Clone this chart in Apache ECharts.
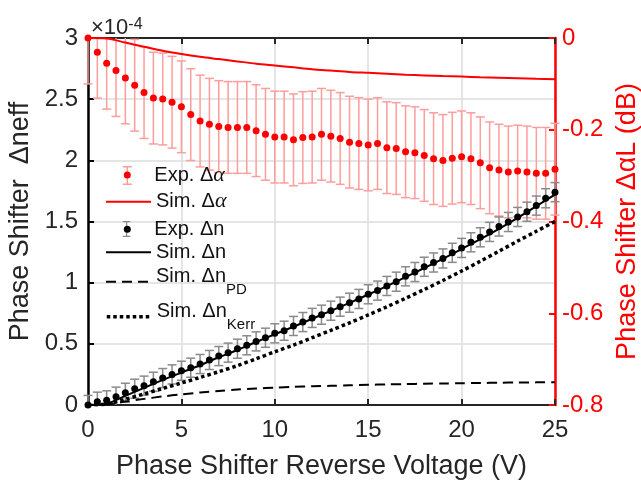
<!DOCTYPE html>
<html>
<head>
<meta charset="UTF-8">
<title>Phase shifter</title>
<style>
  html, body { margin: 0; padding: 0; background: #fff; }
  #chart { width: 641px; height: 480px; }
</style>
</head>
<body>
<div id="chart"></div>
<script src="https://cdn.jsdelivr.net/npm/echarts@6/dist/echarts.min.js"></script>
<script>
var FONT = 'Liberation Sans, Arial, sans-serif';

// measured points, 0 .. 25 V in 0.5 V steps
var volts = [0, 0.5, 1, 1.5, 2, 2.5, 3, 3.5, 4, 4.5, 5, 5.5, 6, 6.5, 7, 7.5, 8, 8.5, 9, 9.5,
  10, 10.5, 11, 11.5, 12, 12.5, 13, 13.5, 14, 14.5, 15, 15.5, 16, 16.5, 17, 17.5, 18, 18.5, 19, 19.5,
  20, 20.5, 21, 21.5, 22, 22.5, 23, 23.5, 24, 24.5, 25];

// Exp. delta alpha L (dB), right axis
var alphaExp = [0, -0.031, -0.055, -0.071, -0.087, -0.103, -0.119, -0.131, -0.133, -0.140,
  -0.150, -0.167, -0.181, -0.188, -0.193, -0.195, -0.195, -0.195, -0.202, -0.210,
  -0.216, -0.216, -0.222, -0.217, -0.216, -0.210, -0.214, -0.219, -0.227, -0.230,
  -0.233, -0.230, -0.239, -0.241, -0.248, -0.250, -0.256, -0.263, -0.267, -0.262,
  -0.259, -0.263, -0.272, -0.283, -0.288, -0.292, -0.290, -0.292, -0.295, -0.295, -0.286];
var alphaErr = 0.1;

// Exp. delta n (x1e-4), left axis
var nExp = [0, 0.027, 0.038, 0.068, 0.100, 0.133, 0.158, 0.190, 0.220, 0.250,
  0.280, 0.305, 0.335, 0.368, 0.400, 0.428, 0.460, 0.488, 0.520, 0.550,
  0.586, 0.607, 0.646, 0.678, 0.712, 0.738, 0.771, 0.804, 0.836, 0.867,
  0.905, 0.935, 0.973, 1.008, 1.052, 1.087, 1.130, 1.165, 1.198, 1.244,
  1.284, 1.330, 1.371, 1.415, 1.459, 1.496, 1.537, 1.580, 1.630, 1.690, 1.740];
var nErr = 0.078;

// simulated curves, 0 .. 25 V in 1 V steps
var simVolts = [0, 1, 2, 3, 4, 5, 6, 7, 8, 9, 10, 11, 12, 13, 14, 15, 16, 17, 18, 19, 20, 21, 22, 23, 24, 25];
var alphaSim = [0, -0.001, -0.010, -0.019, -0.028, -0.035, -0.041, -0.046, -0.051, -0.056, -0.060, -0.064, -0.068,
  -0.071, -0.074, -0.076, -0.078, -0.080, -0.0815, -0.083, -0.084, -0.0855, -0.0865, -0.0875, -0.089, -0.090];
var nSim = [0, 0.012, 0.075, 0.14, 0.205, 0.265, 0.325, 0.39, 0.45, 0.515, 0.578, 0.64, 0.705,
  0.77, 0.835, 0.903, 0.972, 1.045, 1.12, 1.195, 1.275, 1.355, 1.44, 1.53, 1.625, 1.72];
var nPD = [0, 0.004, 0.028, 0.05, 0.07, 0.087, 0.102, 0.115, 0.126, 0.135, 0.142, 0.148, 0.153,
  0.157, 0.161, 0.165, 0.168, 0.171, 0.174, 0.176, 0.178, 0.180, 0.182, 0.184, 0.185, 0.186];
var nKerr = [0, 0.008, 0.047, 0.09, 0.135, 0.18, 0.225, 0.272, 0.322, 0.378, 0.435, 0.49, 0.55,
  0.61, 0.672, 0.736, 0.803, 0.872, 0.944, 1.018, 1.095, 1.175, 1.257, 1.34, 1.42, 1.50];

var xTicks = { min: 0, max: 25, interval: 5 };
var leftTicks = { min: 0, max: 3, interval: 0.5 };
var rightTicks = { min: -0.8, max: 0, interval: 0.2 };

function pairs(xs, ys) {
  return xs.map(function (x, i) { return [x, ys[i]]; });
}
function withErr(xs, ys, e) {
  return xs.map(function (x, i) { return [x, ys[i], e]; });
}

function renderErr(params, api) {
  var x = api.value(0), y = api.value(1), e = api.value(2);
  var cs = params.coordSys;
  var hi = api.coord([x, y + e]);
  var lo = api.coord([x, y - e]);
  var top = cs.y, bot = cs.y + cs.height;
  var y1 = Math.max(hi[1], top), y2 = Math.min(lo[1], bot);
  var color = api.visual('color');
  var st = { stroke: color, lineWidth: 1.5 };
  var w = 4.5;
  var kids = [];
  if (y2 > y1) {
    kids.push({ type: 'line', shape: { x1: hi[0], y1: y1, x2: hi[0], y2: y2 }, style: st });
  }
  if (hi[1] >= top) {
    kids.push({ type: 'line', shape: { x1: hi[0] - w, y1: hi[1], x2: hi[0] + w, y2: hi[1] }, style: st });
  }
  if (lo[1] <= bot) {
    kids.push({ type: 'line', shape: { x1: lo[0] - w, y1: lo[1], x2: lo[0] + w, y2: lo[1] }, style: st });
  }
  return { type: 'group', children: kids };
}

var legendRich = {
  m: { fontFamily: FONT, fontSize: 20, lineHeight: 24, verticalAlign: 'middle', color: '#111' },
  a: { fontFamily: 'Liberation Serif, serif', fontStyle: 'italic', fontSize: 22, lineHeight: 24, verticalAlign: 'middle', color: '#111' },
  t: { fontFamily: FONT, fontSize: 20, lineHeight: 24, padding: [1, 0, 0, 0], verticalAlign: 'top', color: '#111' },
  s: { fontFamily: FONT, fontSize: 15, lineHeight: 32, verticalAlign: 'bottom', color: '#111' }
};
var legendLabels = {
  'Exp. Δα': '{m|Exp. Δ}{a|α}',
  'Sim. Δα': '{m|Sim. Δ}{a|α}',
  'Exp. Δn': '{m|Exp. Δn}',
  'Sim. Δn': '{m|Sim. Δn}',
  'Sim. Δn PD': '{t|Sim. Δn}{s|PD}',
  'Sim. Δn Kerr': '{t|Sim. Δn}{s|Kerr}'
};

function legendRow(name, left, top, w, h, icon, extra) {
  var lg = {
    data: [name], left: left, top: top, padding: 0, orient: 'vertical',
    itemWidth: w, itemHeight: h, selectedMode: false, z: 5,
    formatter: function (n) { return legendLabels[n] || ''; },
    textStyle: { rich: legendRich, lineHeight: 10 }
  };
  if (icon) lg.icon = icon;
  for (var k in extra) lg[k] = extra[k];
  return lg;
}
var ibeam = 'path://M0,0H9V1.5H5.25V17.5H9V19H0V17.5H3.75V1.5H0Z';
var noSymbol = { itemStyle: { color: 'rgba(0,0,0,0)', borderWidth: 0 } };

var chart = echarts.init(document.getElementById('chart'));
chart.setOption({
  backgroundColor: '#fff',
  animation: false,
  textStyle: { fontFamily: FONT },
  grid: { left: 88, right: 86, top: 38, bottom: 75, outerBoundsMode: 'none' },
  graphic: [{
    type: 'text', left: 91, top: 12,
    style: {
      text: '{a|×10}{b|-4}',
      rich: {
        a: { fontFamily: FONT, fontSize: 22, lineHeight: 22, padding: [5, 0, 0, 0], verticalAlign: 'bottom', fill: '#262626' },
        b: { fontFamily: FONT, fontSize: 16, lineHeight: 16, verticalAlign: 'top', fill: '#262626' }
      }
    }
  }],
  legend: [
    legendRow('Exp. Δα bars', 122.8, 166, 9, 19, ibeam, { z: 4 }),
    legendRow('Exp. Δα', 123.8, 163, 44, 7, 'circle'),
    legendRow('Sim. Δα', 105, 189.7, 45, 14, null, noSymbol),
    legendRow('Exp. Δn bars', 122.8, 221, 9, 16, ibeam, { z: 4 }),
    legendRow('Exp. Δn', 123.8, 217.3, 44, 7, 'circle'),
    legendRow('Sim. Δn', 105, 240.3, 45, 14, null, noSymbol),
    legendRow('Sim. Δn PD', 105, 265.7, 45, 14, null, noSymbol),
    legendRow('Sim. Δn Kerr', 105, 300.7, 45, 14, null,
      { itemStyle: noSymbol.itemStyle, lineStyle: { width: 3.5 } })
  ],
  xAxis: [{
    type: 'value', position: 'bottom',
    min: xTicks.min, max: xTicks.max, interval: xTicks.interval,
    name: 'Phase Shifter Reverse Voltage (V)', nameLocation: 'middle', nameGap: 48,
    nameTextStyle: { fontFamily: FONT, fontSize: 27, color: '#262626' },
    axisLine: { show: true, onZero: false, lineStyle: { color: '#262626', width: 2 } },
    axisTick: { inside: true, length: 6, lineStyle: { color: '#262626', width: 2 } },
    axisLabel: { fontFamily: FONT, fontSize: 24, color: '#262626', margin: 13 },
    splitLine: { show: true, lineStyle: { color: '#dcdcdc', width: 1.5 } }
  }, {
    type: 'value', position: 'top',
    min: xTicks.min, max: xTicks.max, interval: xTicks.interval,
    axisLine: { show: true, onZero: false, lineStyle: { color: '#262626', width: 2 } },
    axisTick: { inside: true, length: 6, lineStyle: { color: '#262626', width: 2 } },
    axisLabel: { show: false },
    splitLine: { show: false }
  }],
  yAxis: [{
    type: 'value', position: 'left',
    min: leftTicks.min, max: leftTicks.max, interval: leftTicks.interval,
    name: 'Phase Shifter  Δneff', nameLocation: 'middle', nameGap: 46,
    nameTextStyle: { fontFamily: FONT, fontSize: 27, color: '#262626' },
    axisLine: { show: true, onZero: false, lineStyle: { color: '#000', width: 2.5 } },
    axisTick: { show: true, inside: true, length: 6, lineStyle: { color: '#000', width: 2 } },
    axisLabel: { fontFamily: FONT, fontSize: 24, color: '#262626', margin: 10 },
    splitLine: { show: true, lineStyle: { color: '#dcdcdc', width: 1.5 } }
  }, {
    type: 'value', position: 'right',
    min: rightTicks.min, max: rightTicks.max, interval: rightTicks.interval,
    name: 'Phase Shifter ΔαL (dB)', nameLocation: 'middle', nameGap: 58, nameRotate: 90,
    nameTextStyle: { fontFamily: FONT, fontSize: 27, color: '#ff0000' },
    axisLine: { show: true, onZero: false, lineStyle: { color: '#ff0000', width: 2.5 } },
    axisTick: { show: true, inside: true, length: 6, lineStyle: { color: '#ff0000', width: 2 } },
    axisLabel: { fontFamily: FONT, fontSize: 24, color: '#ff0000', margin: 7 },
    splitLine: { show: false }
  }],
  series: [{
    name: 'Exp. Δα bars', type: 'custom', yAxisIndex: 1, z: 1,
    itemStyle: { color: '#ff9c9c' },
    renderItem: renderErr, encode: { x: 0, y: 1 },
    data: withErr(volts, alphaExp, alphaErr)
  }, {
    name: 'Exp. Δn bars', type: 'custom', yAxisIndex: 0, z: 2,
    itemStyle: { color: '#8a8a8a' },
    renderItem: renderErr, encode: { x: 0, y: 1 },
    data: withErr(volts, nExp, nErr)
  }, {
    name: 'Sim. Δα', type: 'line', yAxisIndex: 1, z: 3, smooth: 0.3,
    symbol: 'none', showSymbol: false,
    lineStyle: { color: '#ff0000', width: 2 }, itemStyle: { color: '#ff0000' },
    data: pairs(simVolts, alphaSim)
  }, {
    name: 'Sim. Δn', type: 'line', z: 3, smooth: 0.3,
    symbol: 'none', showSymbol: false,
    lineStyle: { color: '#000', width: 2 }, itemStyle: { color: '#000' },
    data: pairs(simVolts, nSim)
  }, {
    name: 'Sim. Δn PD', type: 'line', z: 3, smooth: 0.3,
    symbol: 'none', showSymbol: false,
    lineStyle: { color: '#000', width: 2, type: [10, 6] }, itemStyle: { color: '#000' },
    data: pairs(simVolts, nPD)
  }, {
    name: 'Sim. Δn Kerr', type: 'line', z: 3, smooth: 0.3,
    symbol: 'none', showSymbol: false,
    lineStyle: { color: '#000', width: 3.5, type: [3.5, 3], cap: 'butt' }, itemStyle: { color: '#000' },
    data: pairs(simVolts, nKerr)
  }, {
    name: 'Exp. Δα', type: 'scatter', yAxisIndex: 1, z: 4,
    symbol: 'circle', symbolSize: 7,
    itemStyle: { color: '#ff0000', opacity: 1 },
    data: pairs(volts, alphaExp)
  }, {
    name: 'Exp. Δn', type: 'scatter', z: 4,
    symbol: 'circle', symbolSize: 7,
    itemStyle: { color: '#000', opacity: 1 },
    data: pairs(volts, nExp)
  }]
});
</script>
</body>
</html>
